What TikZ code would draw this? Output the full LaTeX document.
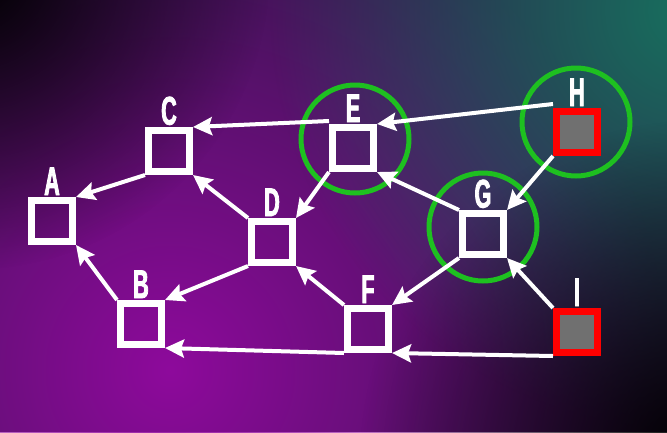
\documentclass[tikz,border=0pt]{standalone}
\usepackage{fontspec}
\newfontfamily\labelfont[FakeStretch=0.54,BoldFeatures={FakeBold=2}]{Liberation Sans}
\usetikzlibrary{arrows.meta, fadings}

\definecolor{bgdark}{HTML}{33164A}
\definecolor{bgpurple}{HTML}{8E0A9C}
\definecolor{bgteal}{HTML}{17705E}
\definecolor{ringgreen}{HTML}{1EC020}
\definecolor{startgray}{HTML}{707070}

\tikzfading[name=glow, inner color=transparent!0, outer color=transparent!100]

\begin{document}
\begin{tikzpicture}[
            x = 1pt, y = -1pt, % pixel-like units
            > = {Stealth[length=19pt, width=18pt, inset=3pt]}, % arrow head style
            line width = 4pt,
        ]
\tikzstyle{vertex}=[
            shape = rectangle,
            draw = white,
            line width = 7pt,
            minimum size = 41pt,
            inner sep = 0pt,
            label distance = 1pt
        ]
\tikzstyle{source}=[
            vertex,
            draw = red,
            fill = startgray
        ]
\tikzstyle{ring}=[
            shape = circle,
            draw = ringgreen,
            line width = 5pt,
            minimum size = 108pt,
            inner sep = 0pt
        ]
\tikzstyle{tag}=[
            text = white,
            font = \labelfont\bfseries\fontsize{40}{40}\selectfont,
            inner sep = 0pt
        ]
\tikzstyle{link}=[->, draw = white]

% background
\useasboundingbox (0,0) rectangle (667,432);
\begin{scope}
\clip (0,0) rectangle (667,432);
\fill[bgdark] (0,0) rectangle (667,432);
\fill[bgpurple, path fading=glow] (170,370) circle (500);
\fill[bgteal, path fading=glow] (690,10) circle (420);
\fill[black, path fading=glow] (-30,-30) circle (300);
\fill[black, path fading=glow] (700,460) circle (340);
\end{scope}

% rings
\node[ring](ringE) at (355,139) {};
\node[ring](ringH) at (576,122) {};
\node[ring](ringG) at (483,227) {};

% vertices
\node[vertex, label={[tag]above:A}](A) at (52,221) {};
\node[vertex, label={[tag]above:C}](C) at (169,151) {};
\node[vertex, label={[tag]above:D}](D) at (272,242) {};
\node[vertex, label={[tag]above:B}](B) at (141,324) {};
\node[vertex, label={[tag]above:E}](E) at (353,148) {};
\node[vertex, label={[tag]above:G}](G) at (483,234) {};
\node[vertex, label={[tag]above:F}](F) at (368,329) {};
\node[source, label={[tag]above:H}](H) at (577,132) {};
\node[source, label={[tag]above:I}](I) at (577,332) {};

% edges
\draw[link] ([yshift=3pt]E.north west) -- (C.north east);
\draw[link] ([yshift=4pt]H.north west) -- (E.north east);
\draw[link] (E.south west) -- (D.north east);
\draw[link] (G.north west) -- (E.south east);
\draw[link] (H.south west) -- (G.north east);
\draw[link] (C.south west) -- (A.north east);
\draw[link] (D.north west) -- (C.south east);
\draw[link] (D.south west) -- (B.north east);
\draw[link] (B.north west) -- (A.south east);
\draw[link] (F.north west) -- (D.south east);
\draw[link] (G.south west) -- (F.north east);
\draw[link] (I.north west) -- (G.south east);
\draw[link] (I.south west) -- (F.south east);
\draw[link] (F.south west) -- (B.south east);
\end{tikzpicture}
\end{document}
